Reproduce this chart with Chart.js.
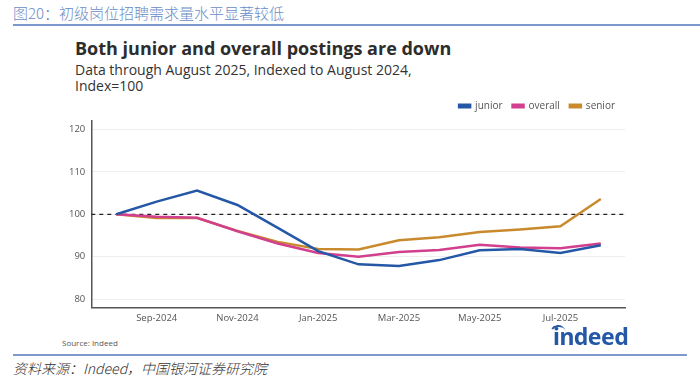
<!DOCTYPE html>
<html>
<head>
<meta charset="utf-8">
<script src="https://cdn.jsdelivr.net/npm/chart.js@4.4.1/dist/chart.umd.min.js"></script>
<style>
  html, body { margin:0; padding:0; background:#fff; }
  body { width:700px; height:384px; position:relative; overflow:hidden; font-family:"Noto Sans", "Open Sans", sans-serif; }
  .hdr { position:absolute; left:13px; top:2px; font-family:"Noto Sans CJK SC", sans-serif; font-size:15px; color:#6a8cc7; font-weight:300; }
  .hdrline { position:absolute; left:13px; right:0; top:24px; height:2px; background:#7d98cc; }
  .title { position:absolute; left:75px; top:36px; font-family:"Open Sans", "Noto Sans", sans-serif; font-weight:700; font-size:18px; color:#2d2d2d; }
  .sub { position:absolute; left:75px; top:62px; font-family:"Open Sans", "Noto Sans", sans-serif; font-size:14px; line-height:16px; color:#333; }
  .src { position:absolute; left:62px; top:337px; font-family:"Open Sans", sans-serif; font-size:8px; color:#555; }
  .logo { position:absolute; left:553px; top:320px; font-family:"Noto Sans", "Open Sans", sans-serif; font-weight:700; font-size:23px; color:#2557a7; letter-spacing:-0.5px; }
  .arc { position:absolute; left:550px; top:325px; width:14px; height:14px; border-top:2.5px solid #2557a7; border-left:2px solid transparent; border-radius:50%; transform:rotate(-10deg); }
  .botline { position:absolute; left:13px; right:13px; top:354px; height:2px; background:#7d98cc; }
  .foot { position:absolute; left:13px; top:358px; font-family:"Noto Sans CJK SC", serif; font-style:italic; font-size:14px; color:#333; font-weight:300; }
  #wrap { position:absolute; left:63px; top:91px; width:572px; height:238px; }
</style>
</head>
<body>
<div class="hdr">图20：初级岗位招聘需求量水平显著较低</div>
<div class="hdrline"></div>
<div class="title">Both junior and overall postings are down</div>
<div class="sub">Data through August 2025, Indexed to August 2024,<br>Index=100</div>
<div id="wrap"><canvas id="c"></canvas></div>
<div class="src">Source: Indeed</div>
<div class="arc"></div>
<div class="logo">indeed</div>
<div class="botline"></div>
<div class="foot">资料来源：Indeed，中国银河证券研究院</div>
<script>
const months = ["Aug-2024","Sep-2024","Oct-2024","Nov-2024","Dec-2024","Jan-2025","Feb-2025","Mar-2025","Apr-2025","May-2025","Jun-2025","Jul-2025","Aug-2025"];
const junior  = [100, 103.0, 105.6, 102.2, 96.8, 91.3, 88.2, 87.8, 89.2, 91.5, 91.8, 90.9, 92.7];
const overall = [100, 99.4, 99.2, 96.0, 93.1, 90.9, 90.0, 91.1, 91.6, 92.8, 92.2, 92.0, 93.1];
const senior  = [100, 99.1, 99.1, 96.1, 93.5, 91.8, 91.7, 93.9, 94.6, 95.8, 96.4, 97.2, 103.6];
const xTickIdx = [1, 3, 5, 7, 9, 11];
const yTicks = [80, 90, 100, 110, 120];
const baseline = 100;

const toXY = arr => arr.map((v, i) => ({x: i, y: v}));

const refLine = {
  id: 'refLine',
  beforeDatasetsDraw(chart) {
    const {ctx, chartArea, scales} = chart;
    const y = scales.y.getPixelForValue(baseline);
    ctx.save();
    ctx.strokeStyle = '#222';
    ctx.lineWidth = 1.2;
    ctx.setLineDash([4, 4]);
    ctx.beginPath();
    ctx.moveTo(chartArea.left, y);
    ctx.lineTo(chartArea.right, y);
    ctx.stroke();
    ctx.restore();
  }
};

new Chart(document.getElementById('c'), {
  type: 'line',
  data: {
    datasets: [
      {label: 'junior', data: toXY(junior), borderColor: '#2557a7', backgroundColor: '#2557a7', borderWidth: 2.5, pointRadius: 0, tension: 0},
      {label: 'overall', data: toXY(overall), borderColor: '#d13f8e', backgroundColor: '#d13f8e', borderWidth: 2.5, pointRadius: 0, tension: 0},
      {label: 'senior', data: toXY(senior), borderColor: '#c98a2e', backgroundColor: '#c98a2e', borderWidth: 2.5, pointRadius: 0, tension: 0}
    ]
  },
  options: {
    responsive: true,
    maintainAspectRatio: false,
    animation: false,
    layout: {padding: {left: 0, right: 10, top: 0, bottom: 0}},
    plugins: {
      legend: {
        position: 'top', align: 'end',
        labels: {boxWidth: 11, boxHeight: 2.5, padding: 10, color: '#555', font: {family: 'Open Sans', size: 10}}
      },
      tooltip: {enabled: false}
    },
    scales: {
      x: {
        type: 'linear', min: -0.62, max: 12.6,
        afterBuildTicks: s => { s.ticks = xTickIdx.map(v => ({value: v})); },
        ticks: {callback: v => months[v], color: '#555', font: {family: 'Open Sans', size: 9.5}, maxRotation: 0, autoSkip: false, padding: 5},
        grid: {display: false, drawTicks: false},
        border: {display: true, color: '#555', width: 1.5}
      },
      y: {
        min: 78, max: 122,
        afterBuildTicks: s => { s.ticks = yTicks.map(v => ({value: v})); },
        ticks: {color: '#555', font: {family: 'Open Sans', size: 9.5}, padding: 6},
        grid: {color: '#eeeeee', lineWidth: 1, drawTicks: false},
        border: {display: true, color: '#555', width: 1.5}
      }
    }
  },
  plugins: [refLine]
});
</script>
</body>
</html>
